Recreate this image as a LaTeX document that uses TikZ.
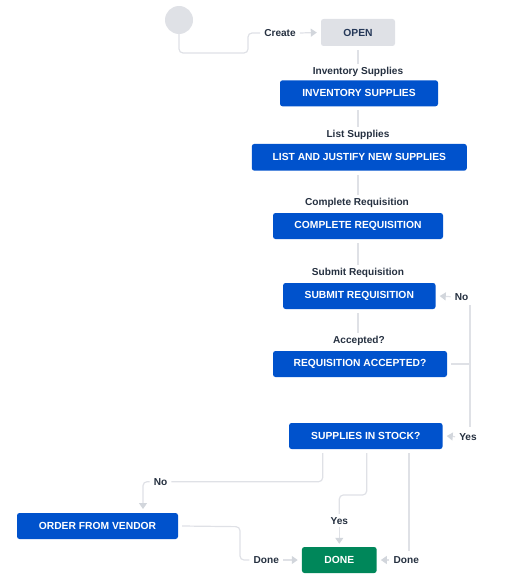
\documentclass[tikz,border=0pt]{standalone}
\usepackage{fontspec}
\setmainfont{Liberation Sans}
\usetikzlibrary{arrows.meta}
\definecolor{jblue}{HTML}{0052CC}
\definecolor{jgreen}{HTML}{00875A}
\definecolor{startgray}{HTML}{DFE1E6}
\definecolor{opentext}{HTML}{253858}
\definecolor{linegray}{HTML}{DFE1E6}
\definecolor{tipgray}{HTML}{D2D6DC}
\definecolor{lbltext}{HTML}{253040}
\tikzset{
  box/.style={rectangle, rounded corners=2.5pt, fill=jblue, text=white,
    font=\bfseries\fontsize{10.3}{12}\selectfont, minimum height=26pt, inner sep=0pt},
  lbl/.style={font=\bfseries\fontsize{10.1}{12}\selectfont, text=lbltext, inner xsep=4pt, inner ysep=3pt},
  conn/.style={draw=linegray, line width=1.2pt, rounded corners=4pt},
  arr/.style={conn, -{Triangle[length=6pt,width=8pt,fill=tipgray,color=tipgray]}}
}
\begin{document}
\begin{tikzpicture}[x=1pt,y=-1pt]
\useasboundingbox (0,0) rectangle (504,583);
% nodes
\node[circle, fill=startgray, minimum size=28pt, inner sep=0pt] (start) at (179,20) {};
\node[box, fill=startgray, text=opentext, minimum width=74pt, minimum height=27pt] (open) at (358,32.5) {OPEN};
\node[box, minimum width=158pt] (inv) at (359,93.3) {INVENTORY SUPPLIES};
\node[box, minimum width=215pt, minimum height=26.7pt] (list) at (359.3,157.3) {LIST AND JUSTIFY NEW SUPPLIES};
\node[box, minimum width=170pt] (compl) at (358,226) {COMPLETE REQUISITION};
\node[box, minimum width=152.5pt] (submit) at (359.3,296) {SUBMIT REQUISITION};
\node[box, minimum width=174pt] (acc) at (360,364) {REQUISITION ACCEPTED?};
\node[box, minimum width=153.5pt] (stock) at (365.8,436) {SUPPLIES IN STOCK?};
\node[box, minimum width=161pt] (order) at (97.5,526) {ORDER FROM VENDOR};
\node[box, fill=jgreen, minimum width=74.7pt] (done) at (339.3,560) {DONE};
% labels
\node[lbl] (lcreate) at (280,33) {Create};
\node[lbl] (linv) at (358,72) {Inventory Supplies};
\node[lbl] (llist) at (358,134.7) {List Supplies};
\node[lbl] (lcompl) at (357,202.5) {Complete Requisition};
\node[lbl] (lsubmit) at (358,272.7) {Submit Requisition};
\node[lbl] (lacc) at (359,340.7) {Accepted?};
\node[lbl] (lno1) at (461.5,296.7) {No};
\node[lbl] (lyes1) at (468,436.7) {Yes};
\node[lbl] (lno2) at (160.5,481.7) {No};
\node[lbl] (lyes2) at (339.3,520.7) {Yes};
\node[lbl] (ldone1) at (266.3,560) {Done};
\node[lbl] (ldone2) at (406.3,560) {Done};
% coordinates
\coordinate (c1) at (248,53);
\coordinate (jn) at (470,364);
\coordinate (nTop) at (470,305);
\coordinate (yBot) at (470,427);
\coordinate (sNo) at (322.7,453);
\coordinate (oTop) at (143,509);
\coordinate (sYes) at (366.7,453);
\coordinate (yBend) at (366.7,495);
\coordinate (sDone) at (409,453);
\coordinate (dEnd) at (409,551);
\coordinate (oBend) at (240,526.7);
% connectors
\draw[conn] (start.south) |- (c1) |- (lcreate.west);
\draw[arr] (lcreate.east) -- ([xshift=-4pt]open.west);
\draw[conn] ([yshift=-4pt]open.south) -- (open.south |- linv.north);
\draw[conn] ([yshift=-4pt]inv.south -| linv.south) -- (linv.south |- llist.north);
\draw[conn] ([yshift=-4pt]list.south -| llist.south) -- (llist.south |- lcompl.north);
\draw[conn] ([yshift=-4pt]compl.south) -- (compl.south |- lsubmit.north);
\draw[conn] ([yshift=-4pt]submit.south -| lsubmit.south) -- (lsubmit.south |- lacc.north);
\draw[conn] ([xshift=4pt]acc.east) -- (jn);
\draw[conn] (nTop) -- (yBot);
\draw[arr] (lno1.west) -- ([xshift=4pt]submit.east);
\draw[arr] (lyes1.west) -- ([xshift=4pt]stock.east);
\draw[conn] (sNo) |- (lno2.east);
\draw[arr] (lno2.west) -| (oTop);
\draw[conn] (sYes) -- (yBend) -| (lyes2.north);
\draw[arr] (lyes2.south) -- ([yshift=3pt]done.north);
\draw[conn] (sDone) -- (dEnd);
\draw[arr] (ldone2.west) -- ([xshift=4pt]done.east);
\draw[conn] ([xshift=4pt]order.east) -- (oBend) |- (ldone1.west);
\draw[arr] (ldone1.east) -- ([xshift=-4pt]done.west);
\end{tikzpicture}
\end{document}
